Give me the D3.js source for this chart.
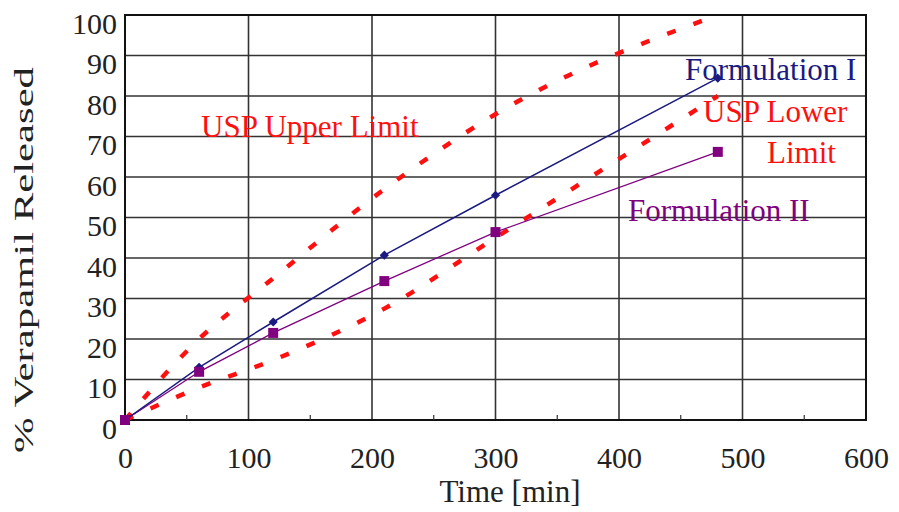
<!DOCTYPE html>
<html>
<head>
<meta charset="utf-8">
<script src="https://cdn.jsdelivr.net/npm/d3@7"></script>
<style>
  body { margin: 0; background: #fff; }
</style>
</head>
<body>
<div id="chart"></div>
<script>
// data
var times = [0, 60, 120, 210, 300, 480];
var formulation1 = [0, 13, 24.2, 40.7, 55.5, 84.4];
var formulation2 = [0, 11.9, 21.5, 34.3, 46.4, 66.2];
var uspUpper = [0, 20, 35, 57, 75.5, 100];
var uspLower = [0, 8, 14.8, 27.5, 45, 80];
var xTicks = [0, 100, 200, 300, 400, 500, 600];
var yTicks = [0, 10, 20, 30, 40, 50, 60, 70, 80, 90, 100];
var xMinor = [50, 150, 250, 350, 450, 550];

var w = 899, h = 512;
var margin = {top: 15, right: 33, bottom: 92, left: 125};
var serif = "Liberation Serif";

var svg = d3.select("#chart").append("svg")
  .attr("width", w)
  .attr("height", h)
  .attr("font-family", serif);

var x = d3.scaleLinear().domain([0, 600]).range([margin.left, w - margin.right]);
var y = d3.scaleLinear().domain([0, 100]).range([h - margin.bottom, margin.top]);

// grid
svg.append("g").selectAll("line").data(yTicks).enter().append("line")
  .attr("x1", x(0)).attr("x2", x(600))
  .attr("y1", function(d) { return y(d); })
  .attr("y2", function(d) { return y(d); })
  .attr("stroke", "#333").attr("stroke-width", 1.6);
svg.append("g").selectAll("line").data(xTicks).enter().append("line")
  .attr("y1", y(0)).attr("y2", y(100))
  .attr("x1", function(d) { return x(d); })
  .attr("x2", function(d) { return x(d); })
  .attr("stroke", "#333").attr("stroke-width", 1.6);

// frame
svg.append("rect")
  .attr("x", x(0)).attr("y", y(100))
  .attr("width", x(600) - x(0)).attr("height", y(0) - y(100))
  .attr("fill", "none").attr("stroke", "#111").attr("stroke-width", 2);

// minor ticks on the time axis
svg.append("g").selectAll("line").data(xMinor).enter().append("line")
  .attr("x1", function(d) { return x(d); })
  .attr("x2", function(d) { return x(d); })
  .attr("y1", y(0)).attr("y2", y(0) - 5)
  .attr("stroke", "#333").attr("stroke-width", 1.2);

// axes (labels only)
var xAxis = svg.append("g")
  .attr("transform", "translate(0," + y(0) + ")")
  .call(d3.axisBottom(x).tickValues(xTicks).tickSize(0));
var yAxis = svg.append("g")
  .attr("transform", "translate(" + x(0) + ",0)")
  .call(d3.axisLeft(y).tickValues(yTicks).tickSize(0));
[xAxis, yAxis].forEach(function(a) {
  a.attr("font-family", serif);
  a.select(".domain").remove();
  a.selectAll("text")
    .attr("font-family", serif)
    .attr("font-size", "30px")
    .attr("fill", "#222")
    .attr("dy", null);
});
xAxis.selectAll("text").attr("y", 48);
yAxis.selectAll("text").attr("x", -8).attr("y", 18);

svg.append("text")
  .attr("x", 510).attr("y", 502)
  .attr("text-anchor", "middle")
  .attr("font-family", serif)
  .attr("font-size", "31px").attr("fill", "#222")
  .text("Time [min]");
svg.append("text")
  .attr("transform", "translate(33,260) rotate(-90)")
  .attr("text-anchor", "middle")
  .attr("font-family", serif)
  .attr("font-size", "27px").attr("fill", "#222")
  .attr("textLength", 386)
  .attr("lengthAdjust", "spacingAndGlyphs")
  .text("% Verapamil Released");

// USP limits
var curve = d3.line()
  .x(function(d, i) { return x(times[i]); })
  .y(function(d) { return y(d); })
  .curve(d3.curveMonotoneX);
[uspUpper, uspLower].forEach(function(s) {
  svg.append("path")
    .attr("d", curve(s))
    .attr("fill", "none")
    .attr("stroke", "#ff1010")
    .attr("stroke-width", 4.5)
    .attr("stroke-dasharray", "9,19");
});

// formulations
var line = d3.line()
  .x(function(d, i) { return x(times[i]); })
  .y(function(d) { return y(d); });

svg.append("path").attr("d", line(formulation2))
  .attr("fill", "none").attr("stroke", "#800080").attr("stroke-width", 1.3);
svg.append("path").attr("d", line(formulation1))
  .attr("fill", "none").attr("stroke", "#1a1a80").attr("stroke-width", 1.5);

svg.append("g").selectAll("path").data(formulation1).enter().append("path")
  .attr("d", d3.symbol().type(d3.symbolSquare).size(42))
  .attr("transform", function(d, i) { return "translate(" + x(times[i]) + "," + y(d) + ") rotate(45)"; })
  .attr("fill", "#1a1a80");
svg.append("g").selectAll("path").data(formulation2).enter().append("path")
  .attr("d", d3.symbol().type(d3.symbolSquare).size(100))
  .attr("transform", function(d, i) { return "translate(" + x(times[i]) + "," + y(d) + ")"; })
  .attr("fill", "#800080");

// in-plot labels
var labels = [
  {t: "USP Upper Limit", x: 201, y: 137, c: "#ff1010"},
  {t: "Formulation I", x: 685, y: 80, c: "#1a1a80"},
  {t: "USP Lower", x: 703, y: 122, c: "#ff1010"},
  {t: "Limit", x: 767, y: 163, c: "#ff1010"},
  {t: "Formulation II", x: 628, y: 221, c: "#800080"}
];
svg.append("g").selectAll("text").data(labels).enter().append("text")
  .attr("x", function(d) { return d.x; })
  .attr("y", function(d) { return d.y; })
  .attr("font-family", serif)
  .attr("font-size", "31px")
  .attr("fill", function(d) { return d.c; })
  .text(function(d) { return d.t; });
</script>
</body>
</html>
